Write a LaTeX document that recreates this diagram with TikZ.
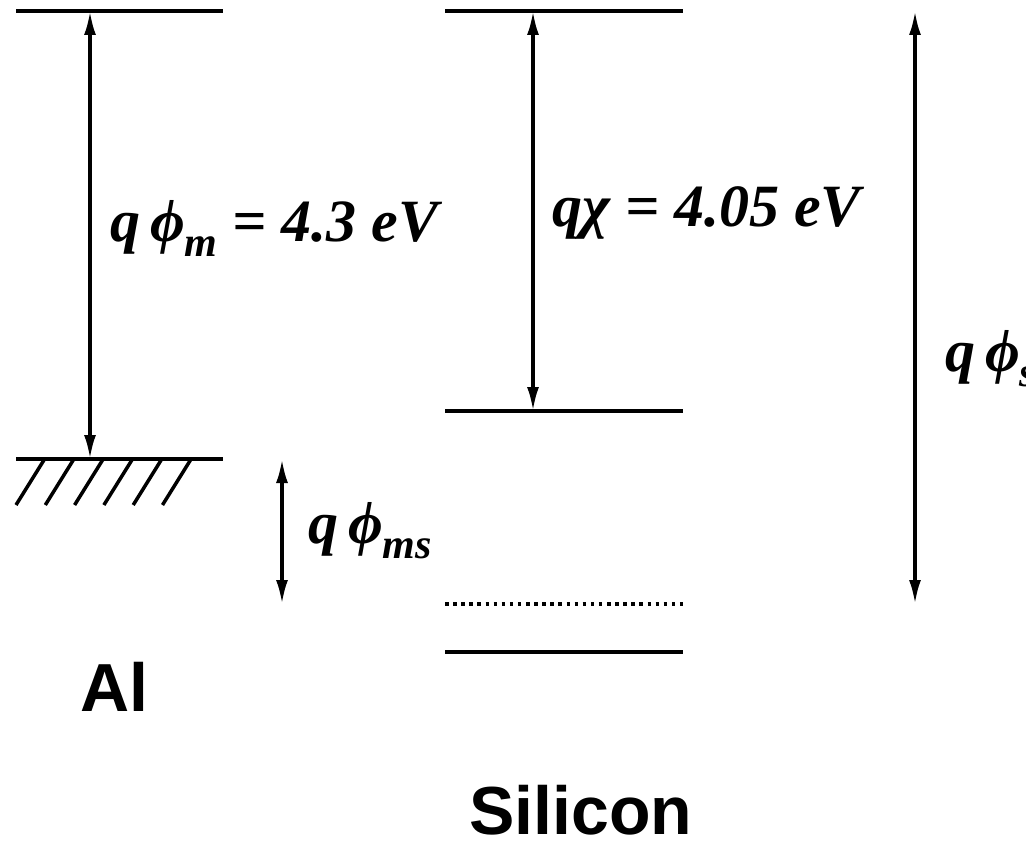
\documentclass[tikz,border=0pt]{standalone}
\usepackage{fontspec}
\setmainfont{Liberation Serif}
\setsansfont{Liberation Sans}
\usetikzlibrary{arrows.meta}
\newcommand\lsub[1]{\raisebox{-15pt}{\fontsize{42}{42}\selectfont #1}}
\begin{document}
\begin{tikzpicture}[x=1pt,y=-1pt,
  level/.style={line width=3.8pt},
  hatchline/.style={line width=3.5pt},
  dotline/.style={line width=3.5pt,dash pattern=on 3.5pt off 4.6pt},
  dblarrow/.style={line width=3.3pt,{Latex[length=24pt,width=12pt]}-{Latex[length=24pt,width=12pt]}},
  lbl/.style={inner sep=0pt,anchor=base west,font=\fontsize{60}{60}\selectfont\bfseries\itshape},
  matname/.style={inner sep=0pt,anchor=base west,font=\fontsize{68}{68}\selectfont\sffamily\bfseries}]
\useasboundingbox (0,0) rectangle (1026,845);
% Al levels
\coordinate (alvacL) at (16,11);
\coordinate (alvacR) at (223,11);
\coordinate (alfL) at (16,459);
\coordinate (alfR) at (223,459);
\draw[level] (alvacL) -- (alvacR);
\draw[level] (alfL) -- (alfR);
\foreach \i in {0,...,5}{
  \draw[hatchline] (44+29.3*\i,460) -- (16+29.3*\i,505);
}
% Silicon levels
\coordinate (sivacL) at (445,11);
\coordinate (sivacR) at (683,11);
\coordinate (secL) at (445,411);
\coordinate (secR) at (683,411);
\coordinate (sfL) at (445,604);
\coordinate (sfR) at (683,604);
\coordinate (sevL) at (445,652);
\coordinate (sevR) at (683,652);
\draw[level] (sivacL) -- (sivacR);
\draw[level] (secL) -- (secR);
\draw[dotline] (sfL) -- (sfR);
\draw[level] (sevL) -- (sevR);
% arrows
\coordinate (amT) at (90,11);
\coordinate (amB) at (90,459);
\coordinate (axT) at (533,11);
\coordinate (axB) at (533,411);
\coordinate (asT) at (915,11);
\coordinate (asB) at (915,604);
\coordinate (amsT) at (282,459);
\coordinate (amsB) at (282,604);
\draw[dblarrow] (amT) -- (amB);
\draw[dblarrow] (axT) -- (axB);
\draw[dblarrow] (asT) -- (asB);
\draw[dblarrow] (amsT) -- (amsB);
% labels
\node[lbl] (lm) at (110,242) {q\,ϕ\lsub{m} = 4.3 eV};
\node[lbl] (lx) at (552,227) {qχ = 4.05 eV};
\node[lbl] (ls) at (945,371) {q\,ϕ\lsub{s}};
\node[lbl] (lms) at (308,543) {q\,ϕ\lsub{ms}};
\node[matname] (al) at (80,711) {Al};
\node[matname] (si) at (469,834) {Silicon};
\end{tikzpicture}
\end{document}
